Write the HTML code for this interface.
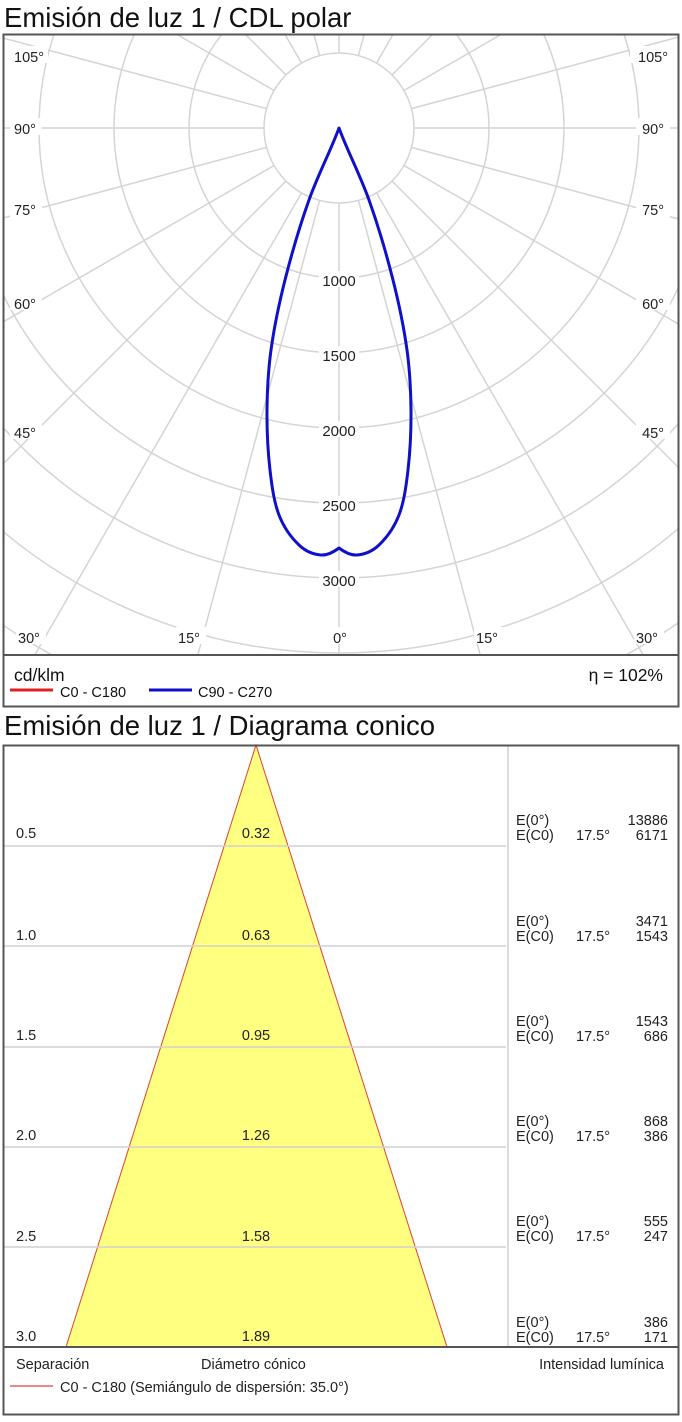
<!DOCTYPE html>
<html><head><meta charset="utf-8"><style>
html,body{margin:0;padding:0;background:#fff;}
svg{display:block;font-family:"Liberation Sans",sans-serif;}
</style></head><body>
<svg width="682" height="1422" viewBox="0 0 682 1422" xmlns="http://www.w3.org/2000/svg">
<defs><clipPath id="pc"><rect x="4" y="35" width="674" height="619"/></clipPath></defs>
<text x="4" y="27" font-size="27.5" fill="#111">Emisión de luz 1 / CDL polar</text>
<g clip-path="url(#pc)" stroke="#d4d4d4" stroke-width="1.5" fill="none">
<g transform="translate(339,128)">
<circle r="75"/><circle r="150"/><circle r="225"/><circle r="300"/><circle r="375"/><circle r="450"/><circle r="525"/><circle r="600"/><circle r="675"/><circle r="750"/>
<line x1="0" y1="75" x2="0" y2="900" transform="rotate(0)"/>
<line x1="0" y1="75" x2="0" y2="900" transform="rotate(15)"/>
<line x1="0" y1="75" x2="0" y2="900" transform="rotate(30)"/>
<line x1="0" y1="75" x2="0" y2="900" transform="rotate(45)"/>
<line x1="0" y1="75" x2="0" y2="900" transform="rotate(60)"/>
<line x1="0" y1="75" x2="0" y2="900" transform="rotate(75)"/>
<line x1="0" y1="75" x2="0" y2="900" transform="rotate(90)"/>
<line x1="0" y1="75" x2="0" y2="900" transform="rotate(105)"/>
<line x1="0" y1="75" x2="0" y2="900" transform="rotate(120)"/>
<line x1="0" y1="75" x2="0" y2="900" transform="rotate(135)"/>
<line x1="0" y1="75" x2="0" y2="900" transform="rotate(150)"/>
<line x1="0" y1="75" x2="0" y2="900" transform="rotate(165)"/>
<line x1="0" y1="75" x2="0" y2="900" transform="rotate(180)"/>
<line x1="0" y1="75" x2="0" y2="900" transform="rotate(195)"/>
<line x1="0" y1="75" x2="0" y2="900" transform="rotate(210)"/>
<line x1="0" y1="75" x2="0" y2="900" transform="rotate(225)"/>
<line x1="0" y1="75" x2="0" y2="900" transform="rotate(240)"/>
<line x1="0" y1="75" x2="0" y2="900" transform="rotate(255)"/>
<line x1="0" y1="75" x2="0" y2="900" transform="rotate(270)"/>
<line x1="0" y1="75" x2="0" y2="900" transform="rotate(285)"/>
<line x1="0" y1="75" x2="0" y2="900" transform="rotate(300)"/>
<line x1="0" y1="75" x2="0" y2="900" transform="rotate(315)"/>
<line x1="0" y1="75" x2="0" y2="900" transform="rotate(330)"/>
<line x1="0" y1="75" x2="0" y2="900" transform="rotate(345)"/>
</g></g>
<g font-size="14.5" fill="#222">
<rect x="10" y="46" width="38" height="17" fill="#fff"/><text x="14" y="62">105°</text>
<rect x="10" y="118" width="32" height="17" fill="#fff"/><text x="14" y="134">90°</text>
<rect x="10" y="200" width="32" height="17" fill="#fff"/><text x="14" y="215">75°</text>
<rect x="10" y="293" width="32" height="17" fill="#fff"/><text x="14" y="309">60°</text>
<rect x="10" y="422" width="32" height="17" fill="#fff"/><text x="14" y="438">45°</text>
<rect x="630" y="46" width="40" height="17" fill="#fff"/><text x="668" y="62" text-anchor="end">105°</text>
<rect x="636" y="118" width="34" height="17" fill="#fff"/><text x="664" y="134" text-anchor="end">90°</text>
<rect x="636" y="200" width="34" height="17" fill="#fff"/><text x="664" y="215" text-anchor="end">75°</text>
<rect x="636" y="293" width="34" height="17" fill="#fff"/><text x="664" y="309" text-anchor="end">60°</text>
<rect x="636" y="422" width="34" height="17" fill="#fff"/><text x="664" y="438" text-anchor="end">45°</text>
<rect x="16" y="627" width="30" height="17" fill="#fff"/><text x="18" y="643">30°</text>
<rect x="176" y="627" width="30" height="17" fill="#fff"/><text x="178" y="643">15°</text>
<rect x="329" y="627" width="24" height="17" fill="#fff"/><text x="340" y="643" text-anchor="middle">0°</text>
<rect x="474" y="627" width="30" height="17" fill="#fff"/><text x="476" y="643">15°</text>
<rect x="634" y="627" width="30" height="17" fill="#fff"/><text x="636" y="643">30°</text>
</g>
<g font-size="15" fill="#222" text-anchor="middle">
<rect x="319" y="271" width="40" height="16" fill="#fff"/><text x="339" y="286">1000</text>
<rect x="319" y="346" width="40" height="16" fill="#fff"/><text x="339" y="361">1500</text>
<rect x="319" y="421" width="40" height="16" fill="#fff"/><text x="339" y="436">2000</text>
<rect x="319" y="496" width="40" height="16" fill="#fff"/><text x="339" y="511">2500</text>
<rect x="319" y="571" width="40" height="16" fill="#fff"/><text x="339" y="586">3000</text>
</g>
<path d="M339,128 C347,150 360,174.7 369,200 C378,225.3 386.7,255 393,280 C399.3,305 404,328.3 407,350 C410,371.7 410.8,390 411,410 C411.2,430 410,452.5 408,470 C406,487.5 403.8,502.5 399,515 C394.2,527.5 386,538.3 379,545 C372,551.7 363.7,554.5 357,555 C350.3,555.5 343,551 339,548 C335,551 327.7,555.5 321,555 C314.3,554.5 306,551.7 299,545 C292,538.3 283.8,527.5 279,515 C274.2,502.5 272,487.5 270,470 C268,452.5 266.8,430 267,410 C267.2,390 268,371.7 271,350 C274,328.3 278.7,305 285,280 C291.3,255 300,225.3 309,200 C318,174.7 331,150 339,128 Z" fill="none" stroke="#1010c8" stroke-width="3" stroke-linejoin="round"/>
<rect x="3.5" y="34.5" width="675" height="672" fill="none" stroke="#555" stroke-width="2"/>
<line x1="3" y1="655" x2="679" y2="655" stroke="#555" stroke-width="2"/>
<text x="14" y="681" font-size="17.5" fill="#111">cd/klm</text>
<text x="663" y="681" font-size="17.5" fill="#111" text-anchor="end">η = 102%</text>
<line x1="10" y1="690" x2="53" y2="690" stroke="#e02020" stroke-width="3"/>
<text x="60" y="697" font-size="14.5" fill="#111">C0 - C180</text>
<line x1="149" y1="690" x2="192" y2="690" stroke="#1010c8" stroke-width="3"/>
<text x="198" y="697" font-size="14.5" fill="#111">C90 - C270</text>

<text x="4" y="735" font-size="27.5" fill="#111">Emisión de luz 1 / Diagrama conico</text>
<polygon points="256,745 66,1347 447,1347" fill="#ffff80" stroke="#e04030" stroke-width="1"/>
<g stroke="#d0d0d0" stroke-width="1.5">
<line x1="4" y1="846" x2="506" y2="846"/><line x1="4" y1="946" x2="506" y2="946"/>
<line x1="4" y1="1047" x2="506" y2="1047"/><line x1="4" y1="1147" x2="506" y2="1147"/>
<line x1="4" y1="1247" x2="506" y2="1247"/><line x1="508" y1="745" x2="508" y2="1347"/>
</g>
<g font-size="14.5" fill="#222">
<text x="16" y="838">0.5</text><text x="16" y="940">1.0</text><text x="16" y="1040">1.5</text>
<text x="16" y="1140">2.0</text><text x="16" y="1241">2.5</text><text x="16" y="1341">3.0</text>
<g text-anchor="middle">
<text x="256" y="838">0.32</text><text x="256" y="940">0.63</text><text x="256" y="1040">0.95</text>
<text x="256" y="1140">1.26</text><text x="256" y="1241">1.58</text><text x="256" y="1341">1.89</text>
</g>
<text x="516" y="825">E(0°)</text><text x="516" y="840">E(C0)</text><text x="576" y="840">17.5°</text>
<text x="668" y="825" text-anchor="end">13886</text><text x="668" y="840" text-anchor="end">6171</text>
<text x="516" y="926">E(0°)</text><text x="516" y="941">E(C0)</text><text x="576" y="941">17.5°</text>
<text x="668" y="926" text-anchor="end">3471</text><text x="668" y="941" text-anchor="end">1543</text>
<text x="516" y="1026">E(0°)</text><text x="516" y="1041">E(C0)</text><text x="576" y="1041">17.5°</text>
<text x="668" y="1026" text-anchor="end">1543</text><text x="668" y="1041" text-anchor="end">686</text>
<text x="516" y="1126">E(0°)</text><text x="516" y="1141">E(C0)</text><text x="576" y="1141">17.5°</text>
<text x="668" y="1126" text-anchor="end">868</text><text x="668" y="1141" text-anchor="end">386</text>
<text x="516" y="1226">E(0°)</text><text x="516" y="1241">E(C0)</text><text x="576" y="1241">17.5°</text>
<text x="668" y="1226" text-anchor="end">555</text><text x="668" y="1241" text-anchor="end">247</text>
<text x="516" y="1327">E(0°)</text><text x="516" y="1342">E(C0)</text><text x="576" y="1342">17.5°</text>
<text x="668" y="1327" text-anchor="end">386</text><text x="668" y="1342" text-anchor="end">171</text>
<text x="16" y="1369">Separación</text>
<text x="201" y="1369">Diámetro cónico</text>
<text x="664" y="1369" text-anchor="end">Intensidad lumínica</text>
<text x="60" y="1392">C0 - C180 (Semiángulo de dispersión: 35.0°)</text>
</g>
<line x1="10" y1="1386" x2="53" y2="1386" stroke="#e04040" stroke-width="1.2"/>
<rect x="3.5" y="745.5" width="675" height="669" fill="none" stroke="#555" stroke-width="2"/>
<line x1="3" y1="1347" x2="679" y2="1347" stroke="#555" stroke-width="2"/>
</svg>
</body></html>
